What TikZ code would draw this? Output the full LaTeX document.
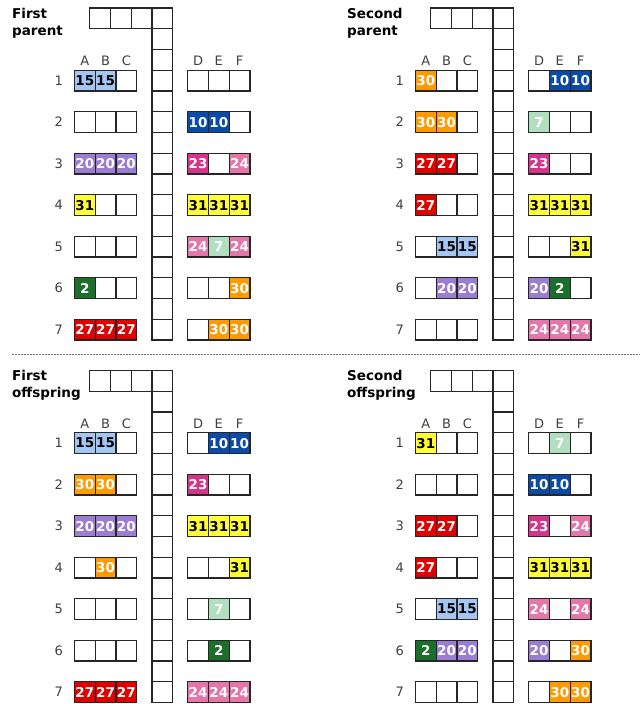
\documentclass[tikz,border=0pt]{standalone}
\usepackage{fontspec}
\setmainfont{DejaVu Sans}
\definecolor{c15}{HTML}{A4C6F4}
\definecolor{c10}{HTML}{0B4AA6}
\definecolor{c20}{HTML}{9B7DD4}
\definecolor{c23}{HTML}{D6338A}
\definecolor{c24}{HTML}{E476AA}
\definecolor{c31}{HTML}{FFFF33}
\definecolor{c7}{HTML}{B2DFBF}
\definecolor{c2}{HTML}{1B6E2C}
\definecolor{c30}{HTML}{FF9A00}
\definecolor{c27}{HTML}{E00000}
\colorlet{t15}{black}
\colorlet{t31}{black}
\colorlet{t10}{white}
\colorlet{t20}{white}
\colorlet{t23}{white}
\colorlet{t24}{white}
\colorlet{t7}{white}
\colorlet{t2}{white}
\colorlet{t30}{white}
\colorlet{t27}{white}
\definecolor{lblgray}{HTML}{404040}
\tikzset{
  cell/.style={draw=black!85, line width=1.2pt, minimum width=20.75pt, minimum height=20.75pt,
    inner sep=0pt, outer sep=0pt, anchor=north west, fill=white},
  num/.style={font=\fontsize{13.5}{15}\selectfont\bfseries},
  lbl/.style={font=\fontsize{13}{15}\selectfont, text=lblgray, inner sep=0pt, anchor=base},
  ttl/.style={font=\fontsize{13.5}{15}\selectfont\bfseries, inner sep=0pt, anchor=base west},
  sepline/.style={draw=black!55, line width=1.3pt, dash pattern=on 2pt off 1pt},
}
\newcommand\gapanel[4]{%
  \begin{scope}[shift={(#2,#3)}]
    \foreach \i in {0,1,2} \node[cell] (#1-top\i) at ({89.75+\i*20.75},8) {};
    \foreach \j in {0,...,15} \node[cell] (#1-col\j) at (152,{8+\j*20.75}) {};
    \foreach \L [count=\c from 0] in {A,B,C} \node[lbl] (#1-lab\L) at ({84.875+\c*20.75},65.5) {\L};
    \foreach \L [count=\c from 0] in {D,E,F} \node[lbl] (#1-lab\L) at ({198.075+\c*20.75},65.5) {\L};
    \foreach \r/\vals in {#4} {
      \node[lbl] (#1-row\r) at (58.7,{8+(2*\r+1)*20.75+10.375+4.8}) {\r};
      \foreach \v [count=\c] in \vals {
        \pgfmathsetmacro\xx{\c<4 ? 74.5+(\c-1)*20.75 : 187.7+(\c-4)*20.75}
        \ifnum\v=0\relax
          \node[cell] (#1-\r-\c) at (\xx,{8+(2*\r+1)*20.75}) {};
        \else
          \node[cell, fill=c\v, text=t\v, num] (#1-\r-\c) at (\xx,{8+(2*\r+1)*20.75}) {\v};
        \fi
      }
    }
  \end{scope}
}
\begin{document}
\begin{tikzpicture}[x=1pt,y=-1pt]
  \fill[white] (0,0) rectangle (640,704);
  \useasboundingbox (0,0) rectangle (640,704);
  % titles
  \node[ttl] (t1a) at (12,18.3) {First};
  \node[ttl] (t1b) at (12,35.3) {parent};
  \node[ttl] (t2a) at (347,18.3) {Second};
  \node[ttl] (t2b) at (347,35.3) {parent};
  \node[ttl] (t3a) at (12,380.8) {First};
  \node[ttl] (t3b) at (12,397.8) {offspring};
  \node[ttl] (t4a) at (347,380.8) {Second};
  \node[ttl] (t4b) at (347,397.8) {offspring};
  % separator
  \coordinate (sl) at (12,354.7);
  \coordinate (sr) at (640,354.7);
  \draw[sepline] (sl) -- (sr);
  % panels
  \gapanel{fp}{0}{0}{1/{15,15,0,0,0,0},2/{0,0,0,10,10,0},3/{20,20,20,23,0,24},4/{31,0,0,31,31,31},5/{0,0,0,24,7,24},6/{2,0,0,0,0,30},7/{27,27,27,0,30,30}}
  \gapanel{sp}{341}{0}{1/{30,0,0,0,10,10},2/{30,30,0,7,0,0},3/{27,27,0,23,0,0},4/{27,0,0,31,31,31},5/{0,15,15,0,0,31},6/{0,20,20,20,2,0},7/{0,0,0,24,24,24}}
  \gapanel{fo}{0}{362.5}{1/{15,15,0,0,10,10},2/{30,30,0,23,0,0},3/{20,20,20,31,31,31},4/{0,30,0,0,0,31},5/{0,0,0,0,7,0},6/{0,0,0,0,2,0},7/{27,27,27,24,24,24}}
  \gapanel{so}{341}{362.5}{1/{31,0,0,0,7,0},2/{0,0,0,10,10,0},3/{27,27,0,23,0,24},4/{27,0,0,31,31,31},5/{0,15,15,24,0,24},6/{2,20,20,20,0,30},7/{0,0,0,0,30,30}}
\end{tikzpicture}
\end{document}
